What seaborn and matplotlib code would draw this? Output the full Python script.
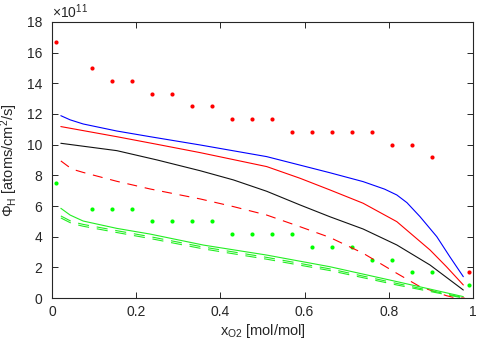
import numpy as np
import pandas as pd
import matplotlib
matplotlib.use("Agg")
import matplotlib.pyplot as plt
import seaborn as sns

# ---- data (flux in units of 1e11 atoms/cm^2/s) ----
x_blue = [0.021, 0.043, 0.074, 0.154, 0.233, 0.352, 0.51, 0.66, 0.739, 0.79, 0.819, 0.843, 0.874, 0.914, 0.945, 0.977]
y_blue = [11.89, 11.62, 11.35, 10.89, 10.52, 9.98, 9.22, 8.17, 7.59, 7.1, 6.72, 6.22, 5.31, 4.0, 2.69, 1.39]

x_red = [0.021, 0.154, 0.25, 0.352, 0.51, 0.589, 0.66, 0.739, 0.819, 0.898, 0.937, 0.977]
y_red = [11.18, 10.52, 10.02, 9.48, 8.57, 7.81, 7.05, 6.18, 4.98, 3.13, 2.04, 0.85]

x_black = [0.021, 0.154, 0.25, 0.352, 0.431, 0.51, 0.589, 0.66, 0.739, 0.819, 0.898, 0.977]
y_black = [10.09, 9.61, 9.0, 8.3, 7.7, 6.96, 6.07, 5.3, 4.5, 3.46, 2.15, 0.52]

x_red_dash = [0.021, 0.047, 0.074, 0.154, 0.233, 0.352, 0.431, 0.51, 0.589, 0.66, 0.739, 0.819, 0.874, 0.937, 0.96, 0.98]
y_red_dash = [8.94, 8.41, 8.19, 7.61, 7.11, 6.46, 5.96, 5.41, 4.65, 3.95, 2.92, 1.61, 0.74, 0.15, 0.0, 0.0]

x_green = [0.021, 0.043, 0.074, 0.154, 0.233, 0.36, 0.51, 0.66, 0.819, 0.977]
y_green = [5.85, 5.41, 5.02, 4.54, 4.17, 3.45, 2.8, 2.04, 1.07, 0.09]
x_green_dash = [0.021, 0.047, 0.074, 0.154, 0.233, 0.36, 0.51, 0.66, 0.819, 0.977]
y_green_dash1 = [5.35, 4.98, 4.8, 4.39, 4.0, 3.32, 2.65, 1.9, 0.95, 0.03]
y_green_dash2 = [5.22, 4.86, 4.68, 4.27, 3.88, 3.2, 2.53, 1.79, 0.85, 0.0]

x_dots = [0.01, 0.095, 0.143, 0.19, 0.238, 0.285, 0.333, 0.38, 0.428, 0.475,
          0.523, 0.57, 0.618, 0.665, 0.713, 0.76, 0.808, 0.855, 0.903, 0.99]
y_red_dots = [16.67, 15.0, 14.17, 14.17, 13.33, 13.33, 12.5, 12.5, 11.67, 11.67,
              11.67, 10.83, 10.83, 10.83, 10.83, 10.83, 10.0, 10.0, 9.17, 1.67]
y_green_dots = [7.5, 5.83, 5.83, 5.83, 5.0, 5.0, 5.0, 5.0, 4.17, 4.17,
                4.17, 4.17, 3.33, 3.33, 3.33, 2.5, 2.5, 1.67, 1.67, 0.83]

x_ticks = [0, 0.2, 0.4, 0.6, 0.8, 1.0]
x_ticklabels = ['0', '0.2', '0.4', '0.6', '0.8', '1']
y_ticks = [0, 2, 4, 6, 8, 10, 12, 14, 16, 18]

sns.set_style("ticks")
plt.rcParams['font.family'] = ['Liberation Sans', 'DejaVu Sans']
plt.rcParams['mathtext.fontset'] = 'custom'
plt.rcParams['mathtext.rm'] = 'Liberation Sans'
plt.rcParams['mathtext.it'] = 'Liberation Sans'
plt.rcParams['mathtext.default'] = 'regular'

TXT = '#262626'
fig = plt.figure(figsize=(4.84, 3.46), dpi=100)
ax = fig.add_axes([52/484, 48/346, 421/484, 276/346])

def line(x, y, color, dashes=None):
    df = pd.DataFrame({"x": x, "y": y})
    ls = (0, dashes) if dashes else '-'
    sns.lineplot(data=df, x="x", y="y", ax=ax, color=color, lw=0.8,
                 linestyle=ls, sort=False, estimator=None)

line(x_blue, y_blue, '#0000ff')
line(x_red, y_red, '#ff0000')
line(x_black, y_black, '#111111')
line(x_red_dash, y_red_dash, '#ff0000', dashes=(9, 7))
line(x_green, y_green, '#22ee22')
line(x_green_dash, y_green_dash1, '#22ee22', dashes=(10, 7))
line(x_green_dash, y_green_dash2, '#22ee22', dashes=(10, 7))

sns.scatterplot(x=x_dots, y=y_red_dots, ax=ax, color='#ff0000',
                s=9, linewidth=0, marker='o')
sns.scatterplot(x=x_dots, y=y_green_dots, ax=ax, color='#00ff00',
                s=9, linewidth=0, marker='o')

ax.set_xlim(0, 1)
ax.set_ylim(0, 18)
ax.set_xticks(x_ticks)
ax.set_xticklabels(x_ticklabels)
ax.set_yticks(y_ticks)
ax.set_yticklabels([str(v) for v in y_ticks])

for s in ax.spines.values():
    s.set_visible(True)
    s.set_color(TXT)
    s.set_linewidth(0.8)
ax.tick_params(direction='in', top=True, right=True, length=4, width=0.7,
               labelsize=10, colors=TXT, labelcolor=TXT)
ax.tick_params(axis='y', pad=7)
ax.tick_params(axis='x', pad=5)

ax.text(0.0, 1.005, r'$\times10^{11}$', transform=ax.transAxes, ha='left',
        va='bottom', fontsize=10, color=TXT)

ax.set_xlabel(r'x$_{O2}$ [mol/mol]', fontsize=10.5, color=TXT)
ax.set_ylabel(r'$\Phi_{H}$ [atoms/cm$^{2}$/s]', fontsize=10.5, color=TXT)
ax.xaxis.set_label_coords(0.5, -0.088)
ax.yaxis.set_label_coords(-0.075, 0.5)

fig.savefig('out.png', dpi=100)
